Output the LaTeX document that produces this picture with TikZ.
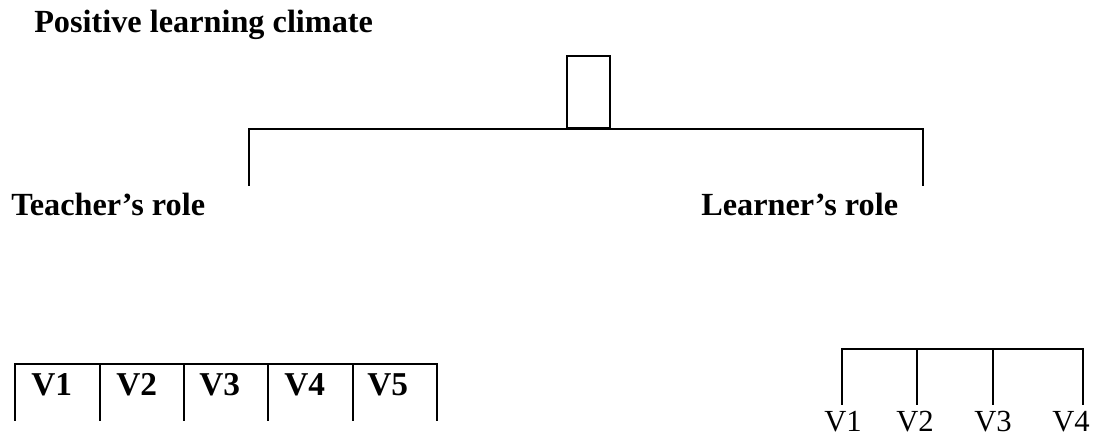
\documentclass[tikz,border=0pt]{standalone}
\usepackage{fontspec}
\setmainfont{Liberation Serif}
\begin{document}
\begin{tikzpicture}[x=0.75pt,y=-0.75pt,
  line/.style={line width=1.6pt,line cap=rect},
  boldlabel/.style={anchor=base west,inner sep=0pt,font=\fontsize{24.2}{29}\selectfont\bfseries},
  cellv/.style={anchor=base west,inner sep=0pt,font=\fontsize{25}{30}\selectfont\bfseries},
  vlabel/.style={anchor=base west,inner sep=0pt,font=\fontsize{23}{27}\selectfont},
  topbox/.style={draw,line width=1.6pt,minimum width=43*0.75pt,minimum height=72*0.75pt,inner sep=0pt,anchor=south}]
\useasboundingbox (0,0) rectangle (1093,436);
% title
\node[boldlabel] (title) at (34,32) {Positive learning climate};
% top box and bracket
\node[topbox] (box) at (588.5,129) {};
\coordinate (hl) at (249,129);
\coordinate (hr) at (923,129);
\coordinate (dl) at (249,185);
\coordinate (dr) at (923,185);
\draw[line] (dl) -- (hl) -- (hr) -- (dr);
% role labels
\node[boldlabel] (teacher) at (11,215) {Teacher’s role};
\node[boldlabel] (learner) at (701,215) {Learner’s role};
% left table of V1..V5
\coordinate (t0) at (15,364);
\coordinate (t5) at (437,364);
\draw[line] (t0) -- (t5);
\foreach \x [count=\i] in {15,100,184,268,353,437}{
  \coordinate (tt\i) at (\x,364);
  \coordinate (tb\i) at (\x,420);
  \draw[line] (tt\i) -- (tb\i);
}
\node[cellv] (tv1) at (31,395) {V1};
\node[cellv] (tv2) at (116,395) {V2};
\node[cellv] (tv3) at (199,395) {V3};
\node[cellv] (tv4) at (284,395) {V4};
\node[cellv] (tv5) at (367,395) {V5};
% right fork of V1..V4
\coordinate (f0) at (842,349);
\coordinate (f4) at (1083,349);
\draw[line] (f0) -- (f4);
\foreach \x [count=\i] in {842,917,993,1083}{
  \coordinate (ft\i) at (\x,349);
  \coordinate (fb\i) at (\x,404);
  \draw[line] (ft\i) -- (fb\i);
}
\node[vlabel] (rv1) at (824,431) {V1};
\node[vlabel] (rv2) at (896,431) {V2};
\node[vlabel] (rv3) at (974,431) {V3};
\node[vlabel] (rv4) at (1052,431) {V4};
\end{tikzpicture}
\end{document}
